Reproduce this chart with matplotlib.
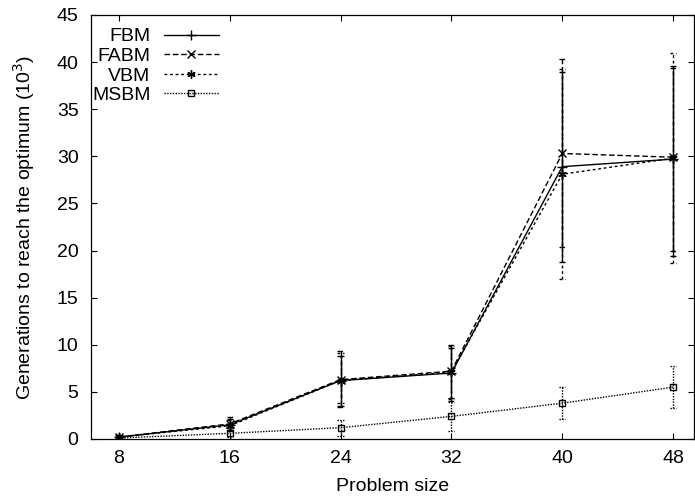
import numpy as np
import matplotlib
matplotlib.use("Agg")
import matplotlib.pyplot as plt

plt.rcParams['font.family'] = ['Liberation Sans', 'DejaVu Sans']

# problem sizes and generations (x 10^3) with error bar limits
sizes = [8, 16, 24, 32, 40, 48]

fbm = [0.2, 1.5, 6.2, 7.0, 28.9, 29.7]
fbm_lo = [0.1, 1.0, 3.5, 4.4, 18.8, 19.4]
fbm_hi = [0.3, 2.1, 8.8, 9.7, 38.9, 39.6]

fabm = [0.2, 1.6, 6.3, 7.2, 30.3, 29.9]
fabm_lo = [0.1, 0.9, 3.4, 4.0, 20.4, 19.9]
fabm_hi = [0.3, 2.3, 9.3, 10.0, 40.3, 39.4]

vbm = [0.2, 1.4, 6.2, 7.1, 28.1, 29.8]
vbm_lo = [0.1, 0.9, 3.8, 4.2, 17.0, 18.7]
vbm_hi = [0.3, 2.0, 9.1, 9.9, 39.3, 41.0]

msbm = [0.1, 0.6, 1.2, 2.4, 3.8, 5.5]
msbm_lo = [0.0, 0.2, 0.3, 0.9, 2.1, 3.3]
msbm_hi = [0.2, 1.0, 2.0, 3.9, 5.5, 7.7]

series = [
    ('FBM', fbm, fbm_lo, fbm_hi, '-', '+', 7),
    ('FABM', fabm, fabm_lo, fabm_hi, (0, (4, 2)), 'x', 6),
    ('VBM', vbm, vbm_lo, vbm_hi, (0, (2, 2)), (6, 2, 0), 6),
    ('MSBM', msbm, msbm_lo, msbm_hi, (0, (1, 1)), 's', 5),
]

fig = plt.figure(figsize=(6.95, 4.98), dpi=100)
ax = fig.add_axes([0.131, 0.1185, 0.8675, 0.8515])

cap_half = 0.22  # half width of error bar caps, in x units
for name, y, lo, hi, ls, mk, ms in series:
    y = np.array(y)
    lo = np.array(lo)
    hi = np.array(hi)
    line, caps, bars = ax.errorbar(sizes, y, yerr=[y - lo, hi - y], color='k',
                                   lw=1.0, linestyle=ls, marker=mk, ms=ms,
                                   mfc='none', mew=1.0, capsize=0, elinewidth=1.0,
                                   label=name)
    for b in bars:
        b.set_linestyle(ls)
    xs = np.array(sizes)
    ax.hlines(np.concatenate([lo, hi]), np.concatenate([xs, xs]) - cap_half,
              np.concatenate([xs, xs]) + cap_half, colors='k', lw=1.0,
              linestyles=[ls])

ax.set_xlim(6, 49.5)
ax.set_ylim(0, 45)
ax.set_xticks(sizes)
ax.set_yticks(np.arange(0, 46, 5))
ax.tick_params(direction='in', top=True, right=True, length=4, width=0.8,
               labelsize=14)
ax.tick_params(axis='y', pad=9)
ax.tick_params(axis='x', pad=8)
for s in ax.spines.values():
    s.set_linewidth(0.9)

ax.set_xlabel('Problem size', fontsize=14, labelpad=8)
ax.set_ylabel('Generations to reach the optimum (10$^3$)', fontsize=14, labelpad=14)

# legend without the error bars in the samples
handles, labels = ax.get_legend_handles_labels()
handles = [h[0] for h in handles]
ax.legend(handles, labels, loc='upper left', bbox_to_anchor=(0.0, 0.972),
          markerfirst=False, frameon=False, fontsize=14, handlelength=2.85,
          handletextpad=0.67, labelspacing=0.1, borderaxespad=0, borderpad=0.05)

fig.savefig('out.png', dpi=100)
